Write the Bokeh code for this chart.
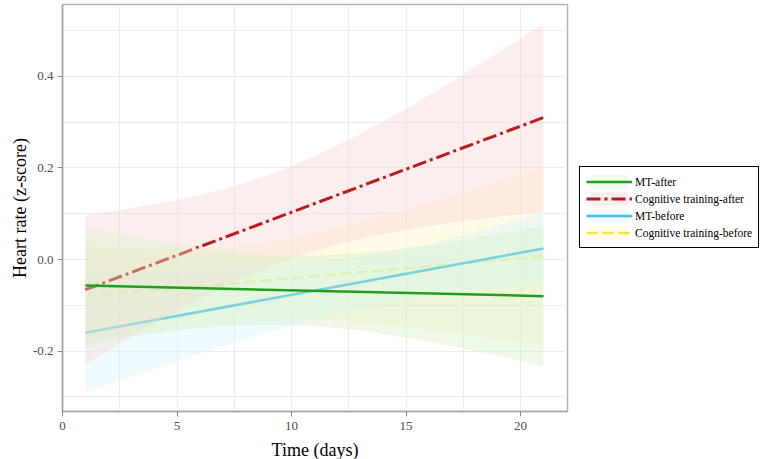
from bokeh.plotting import figure
from bokeh.models import Range1d, FixedTicker, PrintfTickFormatter, Legend, LegendItem
from bokeh.embed import file_html
from bokeh.resources import INLINE

# ---- data ----
days = [1, 3, 5, 7, 9, 11, 13, 15, 17, 19, 21]
line_days = [1, 21]

mt_after = [-0.057, -0.080]
ct_after = [-0.066, 0.310]
mt_before = [-0.160, 0.024]
ct_before = [-0.080, 0.007]

mt_after_hi = [0.070, 0.050, 0.032, 0.018, 0.009, 0.008, 0.014, 0.024, 0.039, 0.055, 0.073]
mt_after_lo = [-0.184, -0.168, -0.155, -0.145, -0.142, -0.145, -0.155, -0.171, -0.189, -0.210, -0.233]

ct_after_hi = [0.097, 0.112, 0.130, 0.153, 0.184, 0.225, 0.274, 0.329, 0.389, 0.451, 0.515]
ct_after_lo = [-0.229, -0.168, -0.112, -0.060, -0.016, 0.019, 0.045, 0.065, 0.081, 0.093, 0.105]

mt_before_hi = [-0.030, -0.027, -0.024, -0.020, -0.014, -0.006, 0.007, 0.024, 0.047, 0.074, 0.104]
mt_before_lo = [-0.290, -0.256, -0.222, -0.190, -0.159, -0.130, -0.106, -0.086, -0.072, -0.063, -0.056]

ct_before_hi = [0.030, 0.023, 0.021, 0.026, 0.039, 0.058, 0.083, 0.110, 0.140, 0.170, 0.202]
ct_before_lo = [-0.190, -0.166, -0.146, -0.134, -0.129, -0.131, -0.138, -0.148, -0.160, -0.174, -0.188]

labels = ["MT-after", "Cognitive training-after", "MT-before", "Cognitive training-before"]
x_ticks = [0, 5, 10, 15, 20]
x_minor = [2.5, 7.5, 12.5, 17.5]
y_ticks = [-0.2, 0.0, 0.2, 0.4]
y_minor = [-0.3, -0.1, 0.1, 0.3, 0.5]

SERIF = "Liberation Serif"
BAND_ALPHA = 0.4

p = figure(frame_width=505, frame_height=407, output_backend="svg", toolbar_location=None,
           x_range=Range1d(0, 22.05), y_range=Range1d(-0.332, 0.557),
           min_border_left=62, min_border_top=4, min_border_bottom=46, min_border_right=0,
           background_fill_color="white", border_fill_color="white")
p.outline_line_color = "#b3b3b3"
p.outline_line_width = 1.5

# grids
p.xaxis.ticker = FixedTicker(ticks=x_ticks, minor_ticks=x_minor)
p.yaxis.ticker = FixedTicker(ticks=y_ticks, minor_ticks=y_minor)
p.yaxis.formatter = PrintfTickFormatter(format="%.1f")
for g in (p.xgrid, p.ygrid):
    g.grid_line_color = "#ececec"
    g.minor_grid_line_color = "#ececec"
    g.grid_line_width = 1
    g.minor_grid_line_width = 1

for ax in (p.xaxis, p.yaxis):
    ax.axis_line_color = "#a6a6a6"
    ax.axis_line_width = 1.5
    ax.major_tick_line_color = "#888888"
    ax.major_tick_out = 5
    ax.major_tick_in = 0
    ax.minor_tick_line_color = None
    ax.major_label_text_font = SERIF
    ax.major_label_text_font_size = "13px"
    ax.major_label_text_color = "#4d4d4d"
    ax.axis_label_text_font = SERIF
    ax.axis_label_text_font_size = "18px"
    ax.axis_label_text_font_style = "normal"
    ax.axis_label_text_color = "black"

p.xaxis.axis_label = "Time (days)"
p.yaxis.axis_label = "Heart rate (z-score)"
p.xaxis.major_label_standoff = 5
p.xaxis.axis_label_standoff = 7
p.yaxis.major_label_standoff = 4
p.yaxis.axis_label_standoff = 0

# series; later bands are semi-opaque and soften the earlier lines beneath them
yl = p.line(x=line_days, y=ct_before, line_color="#f2e23c", line_width=2.5, line_dash="11 5")
yb = p.varea(x=days, y1=ct_before_lo, y2=ct_before_hi, fill_color="#fff5c0", fill_alpha=BAND_ALPHA)

bb = p.varea(x=days, y1=mt_before_lo, y2=mt_before_hi, fill_color="#d6f5ff", fill_alpha=BAND_ALPHA)
bl = p.line(x=line_days, y=mt_before, line_color="#3fbfeb", line_width=2.5)

rb = p.varea(x=days, y1=ct_after_lo, y2=ct_after_hi, fill_color="#fad4d4", fill_alpha=BAND_ALPHA)
rl = p.line(x=line_days, y=ct_after, line_color="#c0191b", line_width=3, line_dash="14 4 3 4")

gb = p.varea(x=days, y1=mt_after_lo, y2=mt_after_hi, fill_color="#d4f0c8", fill_alpha=BAND_ALPHA)
gl = p.line(x=line_days, y=mt_after, line_color="#1f9e1f", line_width=2.5)

legend = Legend(items=[
    LegendItem(label=labels[0], renderers=[gb, gl]),
    LegendItem(label=labels[1], renderers=[rb, rl]),
    LegendItem(label=labels[2], renderers=[bb, bl]),
    LegendItem(label=labels[3], renderers=[yb, yl]),
], location=(12, 163))
legend.label_text_font = SERIF
legend.label_text_font_size = "11.5px"
legend.label_text_color = "black"
legend.border_line_color = "black"
legend.border_line_width = 1
legend.border_line_alpha = 1
legend.background_fill_color = "white"
legend.background_fill_alpha = 1
legend.glyph_width = 46
legend.glyph_height = 17
legend.label_height = 17
legend.label_standoff = 3
legend.spacing = 0
legend.padding = 6
legend.margin = 10
p.add_layout(legend, "right")

open("out.html", "w").write(file_html(p, INLINE))
